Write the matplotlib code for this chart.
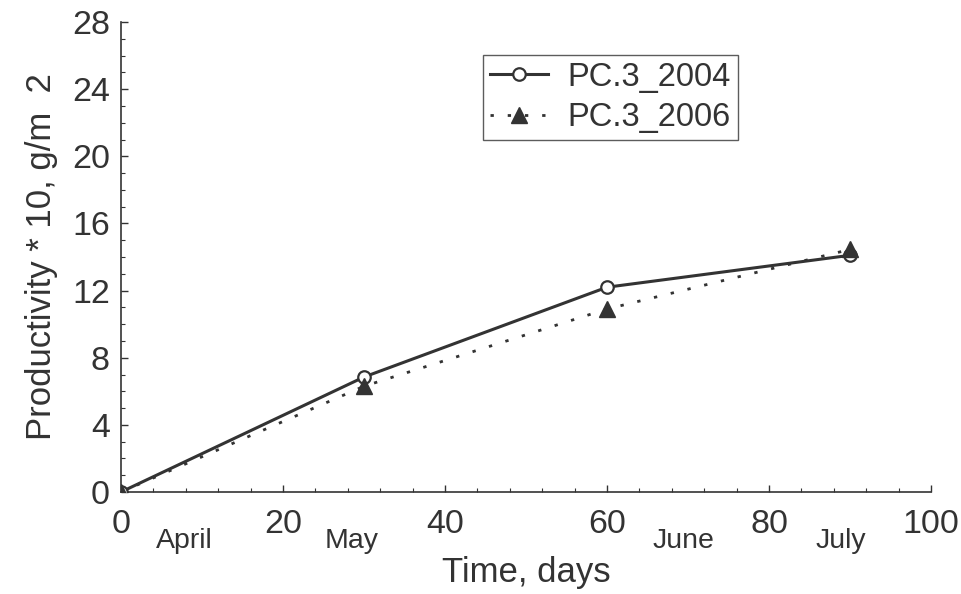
import matplotlib
matplotlib.use("Agg")
import matplotlib.pyplot as plt
from matplotlib.ticker import MultipleLocator
from matplotlib.transforms import blended_transform_factory

days = [0, 30, 60, 90]
pc3_2004 = [0.0, 6.85, 12.2, 14.1]
pc3_2006 = [0.0, 6.3, 10.9, 14.45]
months = ["April", "May", "June", "July"]
month_pos = [7.8, 28.5, 69.4, 88.9]

plt.rcParams['font.family'] = ['Liberation Sans', 'DejaVu Sans']
C = '#333333'

fig = plt.figure(figsize=(9.61, 5.94), dpi=100)
ax = fig.add_axes([121/961, 1-492/594, (931-121)/961, (492-22)/594])

ax.plot(days, pc3_2004, '-', color=C, lw=2.2, marker='o', ms=9,
        mfc='white', mec=C, mew=1.6, label='PC.3_2004', zorder=3)
ax.plot(days, pc3_2006, color=C, lw=2.0, dashes=(1.2, 5.0), marker='^', ms=11,
        mfc=C, mec=C, label='PC.3_2006', zorder=4)

ax.set_xlim(0, 100)
ax.set_ylim(0, 28)
ax.xaxis.set_major_locator(MultipleLocator(20))
ax.xaxis.set_minor_locator(MultipleLocator(4))
ax.yaxis.set_major_locator(MultipleLocator(4))
ax.yaxis.set_minor_locator(MultipleLocator(1))
for s in ['top', 'right']:
    ax.spines[s].set_visible(False)
for s in ['left', 'bottom']:
    ax.spines[s].set_color(C)
    ax.spines[s].set_linewidth(1.2)
ax.tick_params(which='both', direction='in', colors=C, labelsize=24.5, labelcolor=C)
ax.tick_params(which='major', length=5, width=1)
ax.tick_params(which='minor', length=3, width=0.8)
ax.tick_params(axis='x', which='major', pad=12)
ax.tick_params(axis='y', which='major', pad=8)

trans = blended_transform_factory(ax.transData, ax.transAxes)
for m, p in zip(months, month_pos):
    ax.text(p, -0.104, m, transform=trans, ha='center', va='center',
            fontsize=20.5, color=C, clip_on=False)

ax.set_xlabel('Time, days', fontsize=25, color=C, labelpad=12)
ax.set_ylabel('Productivity * 10, g/m  2', fontsize=25, color=C, labelpad=10)

leg = ax.legend(loc='upper left', bbox_to_anchor=((483-121)/810, 1-(55-22)/470),
                fontsize=23.5, frameon=True, fancybox=False, handlelength=1.8,
                borderpad=0.2, labelspacing=0.3, handletextpad=0.6,
                borderaxespad=0)
leg.get_frame().set_edgecolor(C)
leg.get_frame().set_linewidth(1.0)
for t in leg.get_texts():
    t.set_color(C)

fig.savefig('out.png', dpi=100)
